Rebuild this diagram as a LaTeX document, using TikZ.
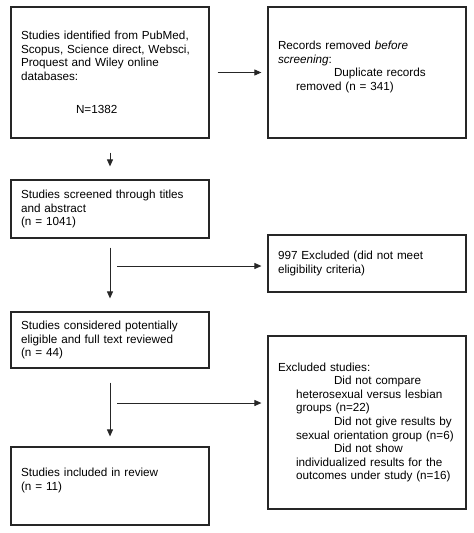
\documentclass[tikz,border=0pt]{standalone}
\usepackage{fontspec}
\setmainfont{Liberation Sans}
\usetikzlibrary{arrows.meta}
\begin{document}
\begin{tikzpicture}[x=1pt,y=-1pt,
  box/.style={draw=black!85, line width=1.2pt, minimum width=198pt, text width=178pt,
    inner xsep=10pt, inner ysep=0pt, align=left, text=black,
    font=\fontsize{11.7}{13.6}\selectfont},
  arr/.style={draw=black!85, line width=0.9pt, -{Triangle[length=7pt,width=6pt]}}]
\useasboundingbox[fill=white] (0,0) rectangle (474,533);
\node[box, minimum height=131pt] (b1) at (110,72.5) {Studies identified from PubMed,\\
Scopus, Science direct, Websci,\\
Proquest and Wiley online\\
databases:\\[20pt]
\hspace*{55pt}N=1382};
\node[box, minimum height=131pt] (b2) at (367,72.5) {Records removed \textit{before}\\
\textit{screening}:\\
\hspace*{56pt}Duplicate records\\
\hspace*{18pt}removed (n = 341)\\
\mbox{}};
\node[box, minimum height=58pt] (b3) at (110,209) {Studies screened through titles\\
and abstract\\
(n = 1041)};
\node[box, minimum height=57pt] (b4) at (367,263.5) {997 Excluded (did not meet\\
eligibility criteria)};
\node[box, minimum height=56pt] (b5) at (110,340) {Studies considered potentially\\
eligible and full text reviewed\\
(n = 44)};
\node[box, minimum height=78pt] (b6) at (110,486) {Studies included in review\\
(n = 11)\\
\mbox{}};
\node[box, minimum height=173pt] (b7) at (367,422.5) {Excluded studies:\\
\hspace*{56pt}Did not compare\\
\hspace*{18pt}heterosexual versus lesbian\\
\hspace*{18pt}groups (n=22)\\
\hspace*{56pt}Did not give results by\\
\hspace*{18pt}sexual orientation group (n=6)\\
\hspace*{56pt}Did not show\\
\hspace*{18pt}individualized results for the\\
\hspace*{18pt}outcomes under study (n=16)};
\draw[arr, shorten <=8pt, shorten >=6pt] (b1.east) -- (b2.west);
\draw[arr, shorten <=14pt, shorten >=13pt] (b1.south) -- (b3.north);
\draw[arr, shorten <=9pt, shorten >=13pt] (b3.south) -- (b5.north);
\draw[arr, shorten <=14pt, shorten >=10pt] (b5.south) -- (b6.north);
\coordinate (c1) at (117,266);
\coordinate (c2) at (117,403);
\draw[arr, shorten >=6pt] (c1) -- (c1 -| b4.west);
\draw[arr, shorten >=6pt] (c2) -- (c2 -| b7.west);
\end{tikzpicture}
\end{document}
